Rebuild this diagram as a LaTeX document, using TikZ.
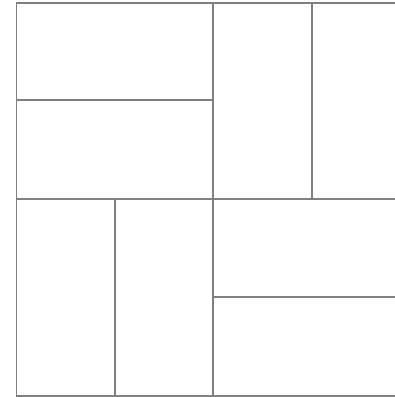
\documentclass[tikz,border=0pt]{standalone}
\usetikzlibrary{positioning}

\begin{document}
\begin{tikzpicture}[
    x=1pt,
    y=-1pt,
    tile/.style={
        draw=black!50,
        line width=1.2pt
    }
]
% ============================================================
% BOUNDING BOX -- fixes the page to the reference size
% ============================================================
\useasboundingbox (0,0) rectangle (395,397);
\clip (0,0) rectangle (395,397);
% ============================================================
% UPPER LEFT -- two horizontal tiles
% ============================================================
\draw[tile] (16.5,3)   rectangle (213,100);
\draw[tile] (16.5,100) rectangle (213,199);
% ============================================================
% UPPER RIGHT -- two vertical tiles
% ============================================================
\draw[tile] (213,3) rectangle (312,199);
\draw[tile] (312,3) rectangle (410,199);
% ============================================================
% LOWER LEFT -- two vertical tiles
% ============================================================
\draw[tile] (16.5,199) rectangle (115,396);
\draw[tile] (115,199)  rectangle (213,396);
% ============================================================
% LOWER RIGHT -- two horizontal tiles
% ============================================================
\draw[tile] (213,199) rectangle (410,297);
\draw[tile] (213,297) rectangle (410,396);
\end{tikzpicture}
\end{document}
